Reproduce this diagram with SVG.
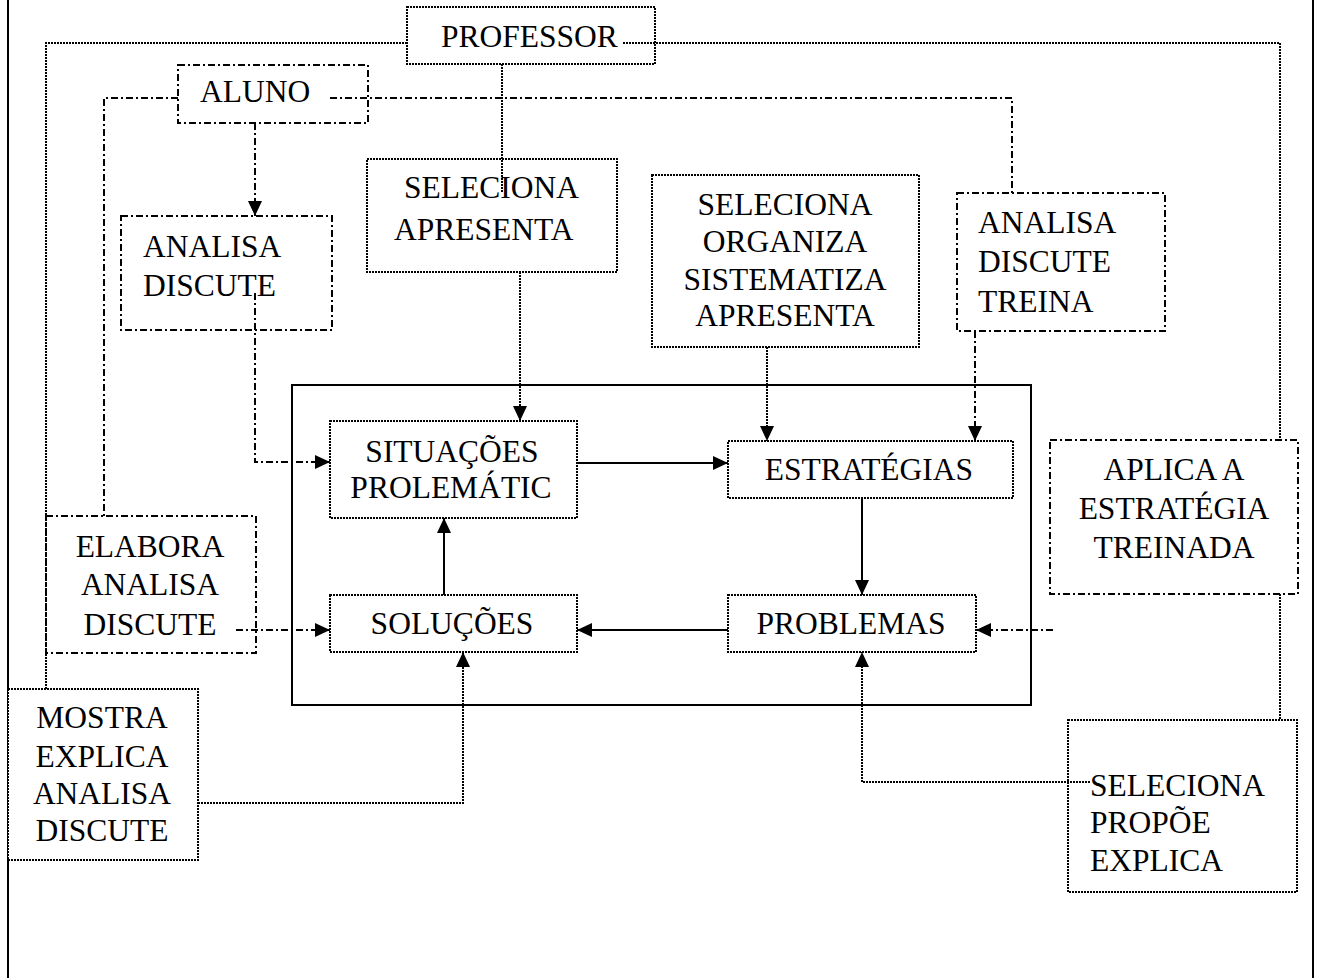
<svg xmlns="http://www.w3.org/2000/svg" width="1322" height="978" viewBox="0 0 1322 978">
<style>
text{font-family:"Liberation Serif","Times New Roman",serif;font-size:31.5px;fill:#000}
.c{text-anchor:middle}
.bp{fill:#fff;stroke:#000;stroke-width:2;stroke-dasharray:2 1}
.ba{fill:#fff;stroke:#000;stroke-width:2;stroke-dasharray:7 3 2 3}
.p{fill:none;stroke:#000;stroke-width:2;stroke-dasharray:2 1}
.a{fill:none;stroke:#000;stroke-width:2;stroke-dasharray:7 3 2 3}
.s{fill:none;stroke:#000;stroke-width:2}
.frame{fill:none;stroke:#000;stroke-width:2}
</style>
<defs>
<marker id="ah" markerUnits="userSpaceOnUse" markerWidth="16" markerHeight="14" refX="15" refY="7" orient="auto">
<path d="M0,0 L15,7 L0,14 z" fill="#000" stroke="none"/>
</marker>
</defs>
<rect width="1322" height="978" fill="#fff"/>
<g id="frames">
<line class="frame" x1="8" y1="0" x2="8" y2="978"/>
<line class="frame" x1="1313" y1="0" x2="1313" y2="978"/>
<rect class="frame" x="292" y="385" width="739" height="320"/>
</g>
<g id="professor"><rect class="bp" x="407" y="7" width="248" height="57"/><text x="441" y="47">PROFESSOR</text></g>
<g id="aluno"><rect class="ba" x="178" y="65" width="190" height="58"/><text x="200" y="102">ALUNO</text></g>
<g id="seleciona-apresenta"><rect class="bp" x="367" y="159" width="250" height="113"/><text x="404" y="198">SELECIONA</text><text x="394" y="240">APRESENTA</text></g>
<g id="analisa-discute"><rect class="ba" x="121" y="216" width="211" height="114"/><text x="143" y="257">ANALISA</text><text x="143" y="296">DISCUTE</text></g>
<g id="seleciona-organiza"><rect class="bp" x="652" y="175" width="267" height="172"/><text class="c" x="785" y="215">SELECIONA</text><text class="c" x="785" y="252">ORGANIZA</text><text class="c" x="785" y="290">SISTEMATIZA</text><text class="c" x="785" y="326">APRESENTA</text></g>
<g id="analisa-discute-treina"><rect class="ba" x="957" y="193" width="208" height="138"/><text x="978" y="233">ANALISA</text><text x="978" y="272">DISCUTE</text><text x="978" y="312">TREINA</text></g>
<g id="situacoes"><rect class="bp" x="330" y="421" width="247" height="97"/><text class="c" x="452" y="462">SITUAÇÕES</text><text class="c" x="451" y="498">PROLEMÁTIC</text></g>
<g id="estrategias"><rect class="bp" x="728" y="441" width="285" height="57"/><text class="c" x="869" y="480">ESTRATÉGIAS</text></g>
<g id="solucoes"><rect class="bp" x="330" y="595" width="247" height="57"/><text class="c" x="452" y="634">SOLUÇÕES</text></g>
<g id="problemas"><rect class="bp" x="728" y="595" width="248" height="57"/><text class="c" x="851" y="634">PROBLEMAS</text></g>
<g id="aplica"><rect class="ba" x="1050" y="440" width="248" height="154"/><text class="c" x="1174" y="480">APLICA A</text><text class="c" x="1174" y="519">ESTRATÉGIA</text><text class="c" x="1174" y="558">TREINADA</text></g>
<g id="elabora"><rect class="ba" x="46" y="516" width="210" height="137"/><text class="c" x="150" y="557">ELABORA</text><text class="c" x="150" y="595">ANALISA</text><text class="c" x="150" y="635">DISCUTE</text></g>
<g id="mostra"><rect class="bp" x="8" y="689" width="190" height="171"/><text class="c" x="102" y="728">MOSTRA</text><text class="c" x="102" y="767">EXPLICA</text><text class="c" x="102" y="804">ANALISA</text><text class="c" x="102" y="841">DISCUTE</text></g>
<g id="seleciona-propoe"><rect class="bp" x="1068" y="720" width="229" height="172"/><text x="1090" y="796">SELECIONA</text><text x="1090" y="833">PROPÕE</text><text x="1090" y="871">EXPLICA</text></g>
<g id="connectors">
<path class="p" d="M46,689 V43 H407"/>
<path class="p" d="M623,43 H1280 V440"/>
<path class="p" d="M1280,594 V720"/>
<path class="p" d="M502,64 V193"/>
<path class="p" d="M520,272 V421" marker-end="url(#ah)"/>
<path class="p" d="M767,347 V441" marker-end="url(#ah)"/>
<path class="p" d="M198,803 H463 V652" marker-end="url(#ah)"/>
<path class="p" d="M1090,782 H862 V652" marker-end="url(#ah)"/>
<path class="a" d="M178,98 H104 V516"/>
<path class="a" d="M330,98 H1012 V193"/>
<path class="a" d="M255,123 V216" marker-end="url(#ah)"/>
<path class="a" d="M255,293 V462 H330" marker-end="url(#ah)"/>
<path class="a" d="M975,331 V441" marker-end="url(#ah)"/>
<path class="a" d="M236,630 H330" marker-end="url(#ah)"/>
<path class="a" d="M1053,630 H976" marker-end="url(#ah)"/>
<path class="s" d="M577,463 H728" marker-end="url(#ah)"/>
<path class="s" d="M862,498 V595" marker-end="url(#ah)"/>
<path class="s" d="M728,630 H577" marker-end="url(#ah)"/>
<path class="s" d="M444,595 V518" marker-end="url(#ah)"/>
</g>
</svg>
